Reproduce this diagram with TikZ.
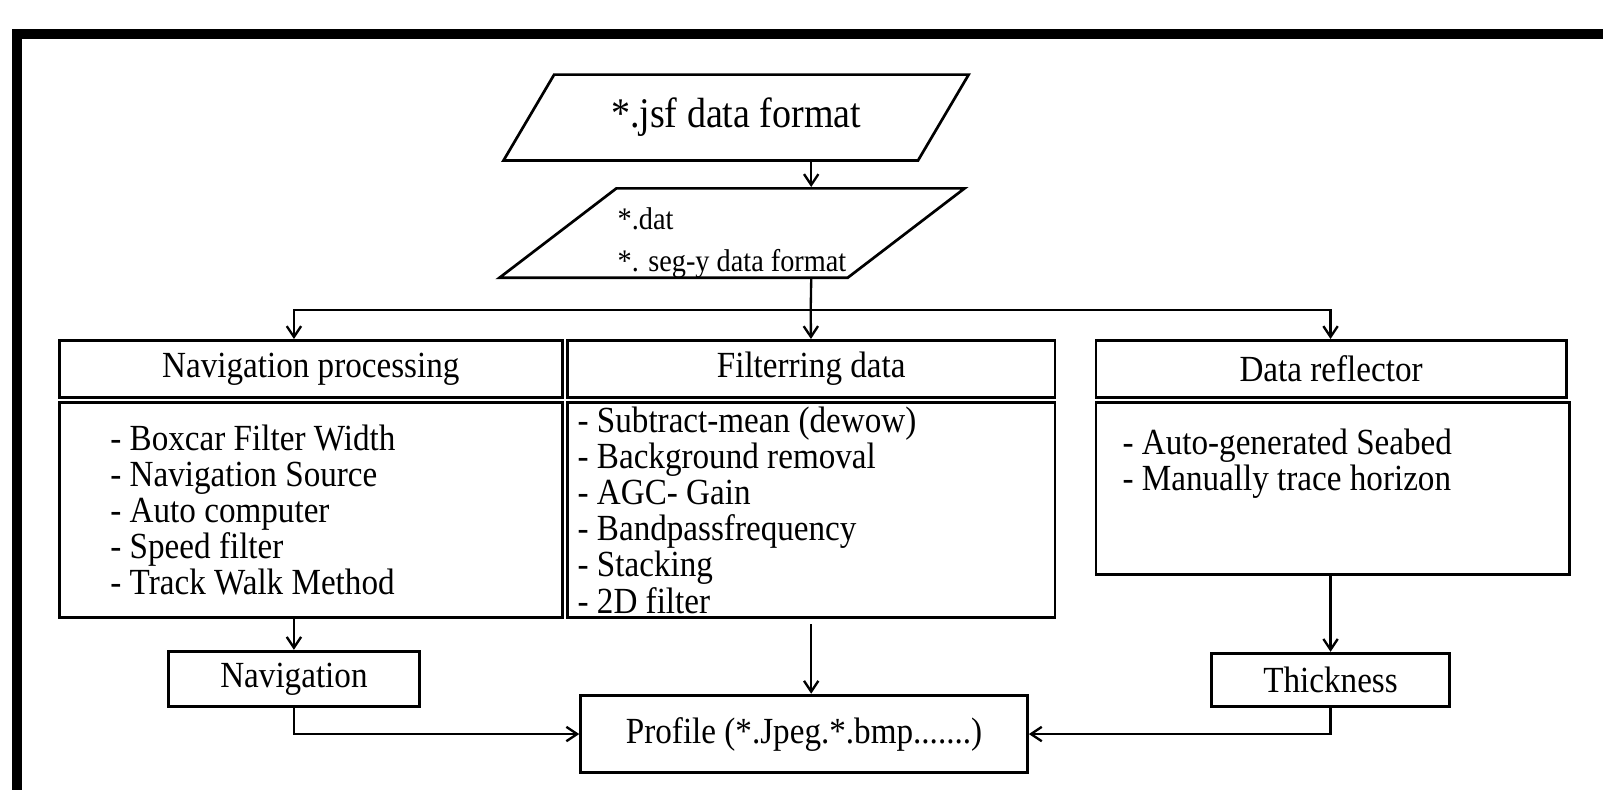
\documentclass[tikz,border=0pt]{standalone}
\usepackage{fontspec}
\setmainfont{Liberation Serif}[FakeStretch=0.9]
\usetikzlibrary{shapes.geometric, arrows.meta, positioning, calc}

\begin{document}
\begin{tikzpicture}[
  databox/.style={draw, line width=1.5pt, trapezium, trapezium left angle=37.4, trapezium right angle=142.6, trapezium stretches body, minimum width=9.1cm, minimum height=1.68cm, inner sep=0pt},
  headbox/.style={draw, line width=1.6pt, minimum height=1.12cm, inner sep=0pt, font=\fontsize{20.5}{22}\selectfont},
  listbox/.style={draw, line width=1.6pt, align=flush left, inner ysep=0pt, font=\fontsize{20.5}{20.1}\selectfont},
  smallbox/.style={draw, line width=1.6pt, inner sep=0pt, font=\fontsize{20.5}{22}\selectfont},
  flow/.style={line width=1.3pt, -{Straight Barb[length=6pt,width=8pt]}}
]
  \useasboundingbox (0,0) rectangle (31.36,15.44);
  \clip (0,0) rectangle (31.36,15.44);
  \fill[white] (0,0) rectangle (31.36,15.44);
  % outer frame
  \draw[line width=0.2cm] (0.34,-1) -- (0.34,14.78) -- (33,14.78);

  % input formats
  \node[databox, font=\fontsize{23.5}{25}\selectfont] (jsf) at (14.40,13.14) {*.jsf data format};
  \node[databox, align=left, font=\fontsize{17.5}{23}\selectfont] (dat) at (14.32,10.88) {\rule{0pt}{23pt}*.dat\\*. seg-y data format};

  % processing
  \node[headbox, minimum width=9.84cm] (navhead) at (6.08,8.22) {Navigation processing};
  \node[listbox, minimum width=9.84cm, minimum height=4.2cm, text width=7.84cm, inner xsep=1cm] (navlist) at (6.08,5.46)
    {- Boxcar Filter Width\\- Navigation Source\\- Auto computer\\- Speed filter\\- Track Walk Method};
  \node[headbox, minimum width=9.54cm] (filthead) at (15.87,8.22) {Filterring data};
  \node[listbox, minimum width=9.54cm, minimum height=4.2cm, text width=9.14cm, inner xsep=0.2cm] (filtlist) at (15.87,5.46)
    {- Subtract-mean (dewow)\\- Background removal\\- AGC- Gain\\- Bandpassfrequency\\- Stacking\\- 2D filter};
  \node[headbox, minimum width=9.2cm] (reflhead) at (26.04,8.22) {Data reflector};
  \node[listbox, minimum width=9.26cm, minimum height=3.36cm, text width=8.22cm, inner xsep=0.52cm] (refllist) at (26.07,5.88)
    {- Auto-generated Seabed\\- Manually trace horizon\\[12pt]\mbox{}};

  % results
  \node[smallbox, minimum width=4.9cm, minimum height=1.08cm] (navi) at (5.75,2.16) {Navigation};
  \node[smallbox, minimum width=4.66cm, minimum height=1.04cm] (thick) at (26.03,2.14) {Thickness};
  \node[smallbox, minimum width=8.74cm, minimum height=1.52cm] (prof) at (15.73,1.08) {Profile (*.Jpeg.*.bmp.......)};

  \coordinate (split) at (15.86,9.38);
  \draw[flow] (jsf.south -| filthead) -- (dat.north -| filthead);
  \draw[line width=1.3pt] (dat.south -| filthead) -- (split);
  \draw[flow] (split) -- (filthead);
  \draw[flow] (split) -| (navhead.north -| navi.north);
  \draw[flow] (split) -| (reflhead.north -| thick.north);
  \draw[flow] (navlist.south -| navi) -- (navi);
  \draw[flow] (refllist.south -| thick) -- (thick);
  \draw[flow, shorten <=0.1cm] (filtlist.south) -- (prof.north -| filtlist.south);
  \draw[flow] (navi.south) |- (prof.west);
  \draw[flow] (thick.south) |- (prof.east);
\end{tikzpicture}
\end{document}
